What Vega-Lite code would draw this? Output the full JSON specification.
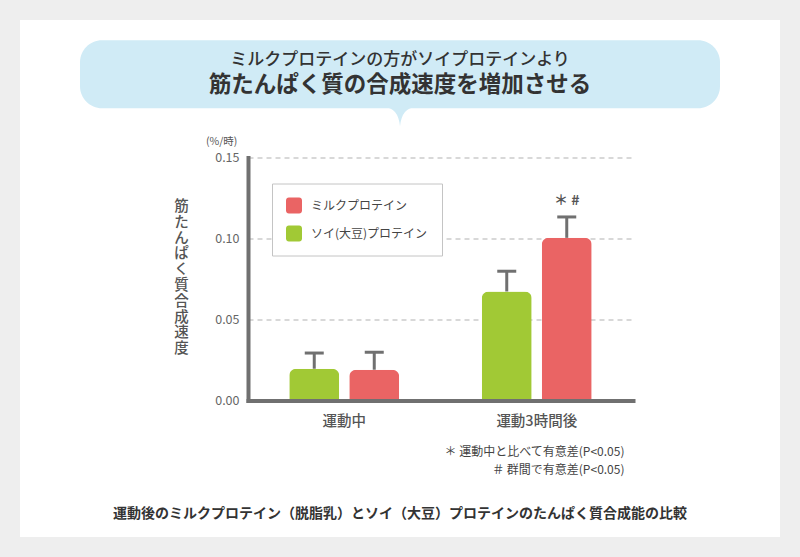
{
  "$schema": "https://vega.github.io/schema/vega-lite/v6.json",
  "padding": 0,
  "background": "#ffffff",
  "config": {"font": "Noto Sans CJK JP", "view": {"stroke": null}},
  "spacing": 0,
  "resolve": {"legend": {"color": "independent"}},
  "vconcat": [
    {"width": 800, "height": 20, "data": {"values": []}, "mark": "point", "view": {"fill": "#eeeeee", "stroke": null}},
    {
      "spacing": 0,
      "resolve": {"legend": {"color": "independent"}},
      "hconcat": [
        {"width": 20, "height": 517, "data": {"values": []}, "mark": "point", "view": {"fill": "#eeeeee", "stroke": null}},
        {
          "spacing": 10.25,
          "resolve": {"legend": {"color": "independent"}},
          "title": {"text": "運動後のミルクプロテイン（脱脂乳）とソイ（大豆）プロテインのたんぱく質合成能の比較", "orient": "bottom", "anchor": "middle", "fontSize": 14, "fontWeight": "bold", "color": "#333333", "baseline": "top", "offset": 31},
          "vconcat": [
            {"width": 760, "height": 9.75, "data": {"values": []}, "mark": "point"},
            {
              "spacing": 0,
              "hconcat": [
                {"width": 60, "height": 1, "data": {"values": []}, "mark": "point"},
                {
                  "width": 640,
                  "height": 68,
                  "view": {"fill": "#d0ebf6", "stroke": null, "cornerRadius": 22},
                  "layer": [
                    {
                      "data": {"values": [{"headline": "ミルクプロテインの方がソイプロテインより"}]},
                      "mark": {"type": "text", "fontSize": 17, "fontWeight": 500, "color": "#333333", "baseline": "middle", "align": "center", "dy": -14.5},
                      "encoding": {"text": {"field": "headline", "type": "nominal"}}
                    },
                    {
                      "data": {"values": [{"headline": "筋たんぱく質の合成速度を増加させる"}]},
                      "mark": {"type": "text", "fontSize": 22.5, "fontWeight": "bold", "color": "#333333", "baseline": "middle", "align": "center", "dy": 10.5},
                      "encoding": {"text": {"field": "headline", "type": "nominal"}}
                    },
                    {
                      "data": {"values": [{"pointer": "bubble tail"}]},
                      "mark": {"type": "point", "shape": "M-16,33Q-2,33,0,52Q2,33,16,33Z", "size": 4, "filled": true, "color": "#d0ebf6", "opacity": 1, "strokeWidth": 0},
                      "encoding": {}
                    }
                  ]
                }
              ]
            },
            {
              "spacing": 0,
              "resolve": {"legend": {"color": "independent"}},
              "hconcat": [
                {"width": 152.5, "height": 1, "data": {"values": []}, "mark": "point"},
                {
                  "width": 385,
                  "height": 243,
                  "title": {"text": "(%/時)", "anchor": "start", "frame": "group", "orient": "top", "fontSize": 10.5, "fontWeight": "normal", "color": "#555555", "dx": -42, "offset": -5.5, "baseline": "bottom", "align": "left"},
                  "data": {
                    "values": [
                      {"timing": "運動中", "protein": "ソイ(大豆)プロテイン", "value": 0.0196, "upper": 0.0293, "sig": ""},
                      {"timing": "運動中", "protein": "ミルクプロテイン", "value": 0.0190, "upper": 0.0298, "sig": ""},
                      {"timing": "運動3時間後", "protein": "ソイ(大豆)プロテイン", "value": 0.0673, "upper": 0.0798, "sig": ""},
                      {"timing": "運動3時間後", "protein": "ミルクプロテイン", "value": 0.1004, "upper": 0.1133, "sig": "＊ #"}
                    ]
                  },
                  "encoding": {
                    "x": {
                      "field": "timing",
                      "type": "nominal",
                      "sort": ["運動中", "運動3時間後"],
                      "scale": {"paddingInner": 0, "paddingOuter": 0},
                      "axis": {
                        "title": ["＊ 運動中と比べて有意差(P<0.05)", "＃ 群間で有意差(P<0.05)"],
                        "labelAngle": 0,
                        "ticks": false,
                        "labelPadding": 14,
                        "labelFontSize": 14.5,
                        "labelFontWeight": 500,
                        "labelColor": "#555555",
                        "domainColor": "#707070",
                        "domainWidth": 4,
                        "domainCap": "square",
                        "zindex": 1,
                        "titleX": 376,
                        "titleY": 46,
                        "titleAlign": "right",
                        "titleBaseline": "top",
                        "titleLineHeight": 18,
                        "titleFontSize": 12,
                        "titleFontWeight": "normal",
                        "titleColor": "#444444"
                      }
                    },
                    "xOffset": {
                      "field": "protein",
                      "type": "nominal",
                      "sort": ["ソイ(大豆)プロテイン", "ミルクプロテイン"],
                      "scale": {"paddingInner": 0.1667, "paddingOuter": 0.6875}
                    }
                  },
                  "layer": [
                    {
                      "mark": {"type": "bar", "cornerRadiusTopLeft": 7, "cornerRadiusTopRight": 7},
                      "encoding": {
                        "y": {
                          "field": "value",
                          "type": "quantitative",
                          "scale": {"domain": [0, 0.15], "nice": false},
                          "axis": {
                            "values": [0, 0.05, 0.1, 0.15],
                            "format": ".2f",
                            "ticks": false,
                            "labelPadding": 9,
                            "labelFontSize": 12.5,
                            "labelColor": "#666666",
                            "domainColor": "#707070",
                            "domainWidth": 4,
                            "domainCap": "square",
                            "grid": true,
                            "gridColor": "#cccccc",
                            "gridDash": [5, 4],
                            "gridWidth": 1.5,
                            "title": ["筋", "た", "ん", "ぱ", "く", "質", "合", "成", "速", "度"],
                            "titleAngle": 0,
                            "titleX": -67,
                            "titleY": 42,
                            "titleAlign": "center",
                            "titleBaseline": "top",
                            "titleLineHeight": 15.8,
                            "titleFontSize": 14.5,
                            "titleFontWeight": 500,
                            "titleColor": "#555555"
                          }
                        },
                        "color": {
                          "field": "protein",
                          "type": "nominal",
                          "scale": {"domain": ["ミルクプロテイン", "ソイ(大豆)プロテイン"], "range": ["#ea6464", "#a1c935"]},
                          "legend": {
                            "orient": "none",
                            "legendX": 24,
                            "legendY": 26,
                            "title": null,
                            "padding": 14,
                            "fillColor": "#ffffff",
                            "strokeColor": "#c4c4c4",
                            "symbolType": "M-0.65,-1H0.65A0.35,0.35,0,0,1,1,-0.65V0.65A0.35,0.35,0,0,1,0.65,1H-0.65A0.35,0.35,0,0,1,-1,0.65V-0.65A0.35,0.35,0,0,1,-0.65,-1Z",
                            "symbolSize": 256,
                            "symbolStrokeWidth": 0,
                            "symbolOpacity": 1,
                            "labelFontSize": 12,
                            "labelColor": "#444444",
                            "labelOffset": 9,
                            "rowPadding": 12
                          }
                        }
                      }
                    },
                    {
                      "mark": {"type": "rule", "strokeWidth": 3, "color": "#707070"},
                      "encoding": {
                        "y": {"field": "value", "type": "quantitative"},
                        "y2": {"field": "upper"}
                      }
                    },
                    {
                      "mark": {"type": "tick", "thickness": 3, "size": 19, "color": "#707070", "orient": "horizontal", "opacity": 1},
                      "encoding": {
                        "y": {"field": "upper", "type": "quantitative"}
                      }
                    },
                    {
                      "mark": {"type": "text", "dy": -16, "fontSize": 14, "fontWeight": "bold", "color": "#555555", "baseline": "middle"},
                      "encoding": {
                        "y": {"field": "upper", "type": "quantitative"},
                        "text": {"field": "sig", "type": "nominal"}
                      }
                    }
                  ]
                }
              ]
            }
          ]
        },
        {"width": 20, "height": 517, "data": {"values": []}, "mark": "point", "view": {"fill": "#eeeeee", "stroke": null}}
      ]
    },
    {"width": 800, "height": 20, "data": {"values": []}, "mark": "point", "view": {"fill": "#eeeeee", "stroke": null}}
  ]
}
